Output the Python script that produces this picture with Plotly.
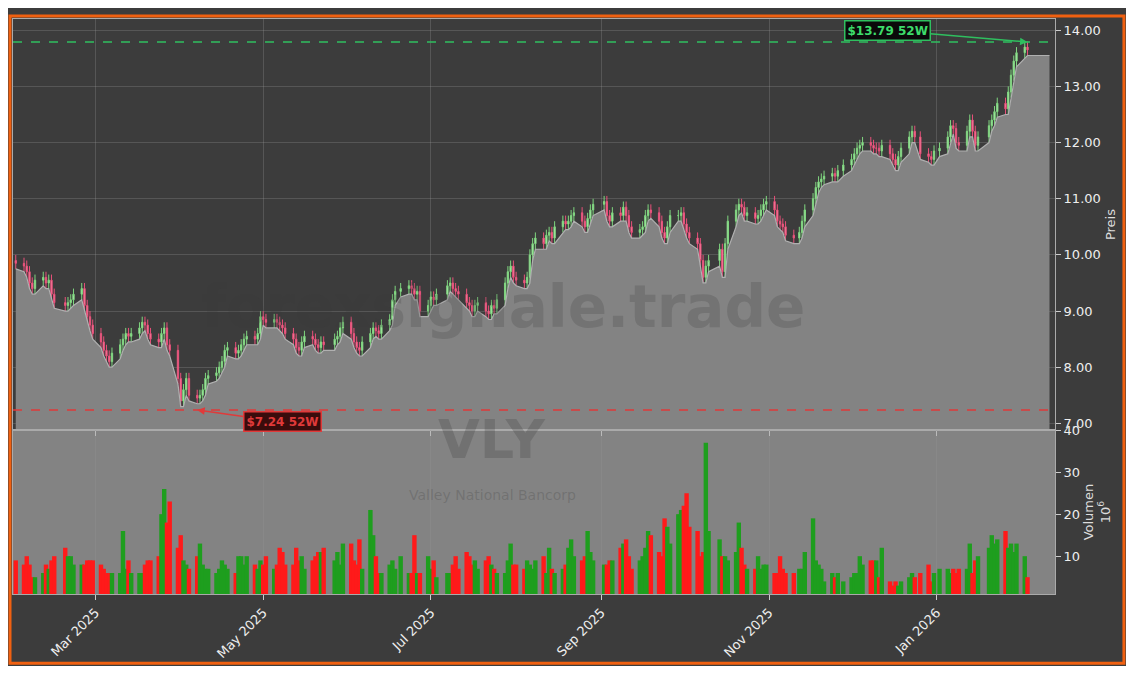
import pandas as pd
import plotly.graph_objects as go
from plotly.subplots import make_subplots
from pandas.tseries.holiday import USFederalHolidayCalendar

# daily closes, Feb 2025 .. Feb 2026
closes = (
    [9.85, 9.8, 9.7, 9.5, 9.4, 9.55, 9.6, 9.5, 9.55, 9.3, 9.15, 9.1, 9.15, 9.2, 9.3, 9.4, 9.1, 8.9, 8.75]
    + [8.6, 8.45, 8.3, 8.2, 8.1, 8.25, 8.4, 8.5, 8.6, 8.55, 8.6, 8.7, 8.8, 8.75, 8.6, 8.5, 8.45, 8.6, 8.7, 8.4, 8.3]
    + [7.8, 7.4, 7.6, 7.8, 7.5, 7.45, 7.5, 7.6, 7.8, 7.85, 7.9, 8.0, 8.1, 8.3, 8.35, 8.25, 8.3, 8.4, 8.5, 8.55, 8.5]
    + [8.6, 8.9, 8.85, 8.8, 8.85, 8.8, 8.75, 8.7, 8.6, 8.5, 8.35, 8.3, 8.45, 8.55, 8.5, 8.4, 8.35, 8.45, 8.4, 8.5, 8.55]
    + [8.7, 8.8, 8.6, 8.45, 8.35, 8.3, 8.45, 8.6, 8.7, 8.65, 8.6, 8.75, 8.85, 9.2, 9.35, 9.4, 9.45, 9.4, 9.3, 9.35]
    + [9.0, 9.1, 9.25, 9.2, 9.3, 9.45, 9.5, 9.4, 9.35, 9.3, 9.15, 9.1, 9.0, 9.1, 9.15, 9.0, 8.95, 9.1, 9.05, 9.2, 9.5, 9.7]
    + [9.8, 9.6, 9.55, 9.5, 9.6, 10.0, 10.2, 10.3, 10.2, 10.35, 10.4, 10.3, 10.5, 10.6, 10.55, 10.6, 10.7, 10.75, 10.6, 10.5, 10.65]
    + [10.8, 10.9, 10.95, 10.7, 10.6, 10.75, 10.7, 10.85, 10.7, 10.5, 10.4, 10.45, 10.5, 10.7, 10.8, 10.75, 10.6, 10.4, 10.3, 10.5, 10.7]
    + [10.7, 10.75, 10.55, 10.4, 10.3, 10.2, 9.9, 9.6, 9.8, 9.9, 10.1, 9.7, 10.2, 10.6, 10.8, 10.9, 10.85, 10.7, 10.75, 10.65, 10.7, 10.8, 10.9]
    + [10.95, 10.8, 10.6, 10.55, 10.5, 10.35, 10.3, 10.4, 10.6, 10.8, 11.0, 11.2, 11.3, 11.35, 11.4, 11.45, 11.4, 11.5, 11.6]
    + [11.7, 11.8, 11.9, 11.95, 12.0, 11.95, 11.9, 11.9, 11.85, 11.95, 11.8, 11.7, 11.6, 11.75, 11.9, 12.1, 12.2, 12.1, 11.8, 11.75, 11.7, 11.85]
    + [11.9, 12.1, 12.3, 12.25, 12.0, 11.95, 12.2, 12.4, 12.2, 11.95, 12.1, 12.3, 12.4, 12.55, 12.7, 12.6, 12.9, 13.2, 13.45, 13.6]
    + [13.7, 13.65]
)
opens = [9.9] + closes[:-1]
wick = 0.1

# volume in millions
volumes = (
    [9, 8, 10, 8, 5, 5, 6, 8, 7, 9, 10, 12, 10, 10, 8, 8, 8, 9, 9]
    + [9, 8, 7, 6, 6, 6, 6, 16, 7, 9, 6, 6, 6, 8, 9, 9, 10, 20, 26, 18, 23]
    + [12, 15, 9, 8, 7, 10, 13, 8, 7, 7, 6, 7, 9, 8, 7, 6, 10, 10, 8, 10, 8]
    + [7, 9, 8, 10, 7, 8, 12, 11, 8, 8, 12, 9, 10, 7, 9, 10, 11, 11, 12, 9, 11]
    + [8, 13, 13, 9, 8, 14, 7, 21, 15, 10, 6, 6, 8, 9, 7, 10, 6, 6, 15, 6]
    + [6, 10, 7, 9, 5, 6, 6, 8, 10, 7, 11, 10, 8, 9, 7, 9, 10, 8, 7, 6, 6, 9]
    + [13, 8, 8, 7, 9, 8, 7, 9, 10, 6, 12, 7, 6, 7, 8, 12, 14, 10, 9, 10, 16]
    + [11, 9, 8, 8, 9, 9, 12, 13, 14, 10, 7, 9, 10, 12, 16, 15, 11, 10, 19, 17, 13]
    + [20, 21, 22, 25, 17, 16, 10, 11, 37, 16, 14, 10, 10, 9, 11, 18, 12, 8, 7, 7, 10, 7, 8]
    + [8, 6, 6, 10, 7, 6, 6, 7, 7, 11, 19, 9, 8, 7, 4, 6, 5, 6, 4]
    + [5, 6, 6, 10, 8, 9, 9, 9, 5, 12, 4, 3, 4, 3, 4, 5, 6, 5, 6, 8, 4, 6]
    + [7, 7, 6, 7, 6, 7, 7, 13, 6, 9, 10, 12, 15, 13, 14, 16, 12, 13, 11, 13]
    + [10, 5]
)

high_52w = 13.79
low_52w = 7.24
low_date = "2025-04-07"
high_date = "2026-02-03"

hol = USFederalHolidayCalendar().holidays("2025-01-01", "2026-12-31")
dates = pd.bdate_range(end="2026-02-03", periods=len(closes), freq="C", holidays=hol)
highs = [max(o, c) + wick for o, c in zip(opens, closes)]
lows = [min(o, c) - wick for o, c in zip(opens, closes)]
vol_colors = ["#1e9e1e" if c >= o else "#ff1a1a" for o, c in zip(opens, closes)]

fig = make_subplots(rows=2, cols=1, shared_xaxes=True, vertical_spacing=0,
                    row_heights=[0.715, 0.285])

# area under lows, extended flat to the right
area_x = list(dates) + [pd.Timestamp("2026-02-11")]
area_y = lows + [lows[-1]]
fig.add_trace(go.Scatter(x=area_x, y=area_y, mode="lines", line=dict(color="#b0b0b0", width=1.2),
                         fill="tozeroy", fillcolor="#838383", hoverinfo="skip", showlegend=False),
              row=1, col=1)
fig.add_trace(go.Candlestick(x=dates, open=opens, high=highs, low=lows, close=closes,
                             increasing=dict(line=dict(color="#7fd67f", width=1), fillcolor="#b8f0b8"),
                             decreasing=dict(line=dict(color="#e8507a", width=1), fillcolor="#ff8fab"),
                             whiskerwidth=0, showlegend=False), row=1, col=1)
fig.add_trace(go.Bar(x=dates, y=volumes, width=86400000 * 1.6,
                     marker=dict(color=vol_colors, line_width=0),
                     showlegend=False), row=2, col=1)

fig.add_hline(y=high_52w, line=dict(color="#2fbf5f", dash="dash", width=1.5), row=1, col=1)
fig.add_hline(y=low_52w, line=dict(color="#e03a3a", dash="dash", width=1.5), row=1, col=1)

fig.add_annotation(x=high_date, y=high_52w, xref="x", yref="y", text="<b>$13.79 52W</b>",
                   ax=-140, ay=-12, showarrow=True, arrowhead=2, arrowcolor="#2fbf5f", arrowwidth=1.5,
                   font=dict(color="#3ddc6a", size=12, family="DejaVu Sans"),
                   bgcolor="#0a0a0a", bordercolor="#2fbf5f", borderwidth=1.5, borderpad=2)
fig.add_annotation(x=low_date, y=low_52w, xref="x", yref="y", text="<b>$7.24 52W</b>",
                   ax=85, ay=12, showarrow=True, arrowhead=2, arrowcolor="#e03a3a", arrowwidth=1.5,
                   font=dict(color="#e03a3a", size=12, family="DejaVu Sans"),
                   bgcolor="#3a0c0c", bordercolor="#e03a3a", borderwidth=1.5, borderpad=2)

# watermarks
fig.add_annotation(x=0.47, y=0.5, xref="paper", yref="paper", text="<b>forexsignale.trade</b>",
                   showarrow=False, font=dict(size=58, color="rgba(60,60,60,0.22)", family="DejaVu Sans"))
fig.add_annotation(x=0.46, y=0.21, xref="paper", yref="paper", text="<b>VLY</b>",
                   showarrow=False, font=dict(size=54, color="rgba(60,60,60,0.25)", family="DejaVu Sans"))
fig.add_annotation(x=0.46, y=0.155, xref="paper", yref="paper", text="Valley National Bancorp",
                   showarrow=False, font=dict(size=14, color="rgba(60,60,60,0.25)", family="DejaVu Sans"))

W, H = 1118, 658
L, R, T, B = 4, 71, 4, 72
pw, ph = W - L - R, H - T - B
fig.add_shape(type="rect", xref="paper", yref="paper", x0=-(L - 1) / pw, x1=1 + (R - 2) / pw,
              y0=-(B - 2) / ph, y1=1 + (T - 1) / ph, line=dict(color="#f06010", width=3), layer="above")

axis_style = dict(gridcolor="rgba(150,150,150,0.3)", linecolor="#aaaaaa", showline=True, mirror=True,
                  tickfont=dict(color="#eeeeee", size=13), ticks="outside", tickcolor="#cccccc")
fig.update_xaxes(**axis_style, range=["2025-01-30", "2026-02-13"], rangeslider_visible=False)
fig.update_xaxes(tickformat="%b %Y", tickangle=-45, dtick="M2", tick0="2025-03-01", row=2, col=1)
fig.update_yaxes(**axis_style, side="right")
fig.update_yaxes(range=[6.88, 14.2], dtick=1, tickformat=".2f",
                 title=dict(text="Preis", font=dict(color="#dddddd", size=13), standoff=6),
                 row=1, col=1)
fig.update_yaxes(range=[1, 40], tickvals=[10, 20, 30, 40], showgrid=False,
                 title=dict(text="Volumen<br>10<sup>6</sup>", font=dict(color="#dddddd", size=13), standoff=4),
                 row=2, col=1)

fig.update_layout(width=W, height=H, margin=dict(l=L, r=R, t=T, b=B),
                  paper_bgcolor="#3c3c3c", plot_bgcolor="#3c3c3c",
                  font=dict(family="DejaVu Sans"), showlegend=False)
fig.add_shape(type="rect", xref="x2 domain", yref="y2 domain", x0=0, x1=1, y0=0, y1=1,
              fillcolor="#838383", line_width=0, layer="below")

fig.write_html("out.html")
